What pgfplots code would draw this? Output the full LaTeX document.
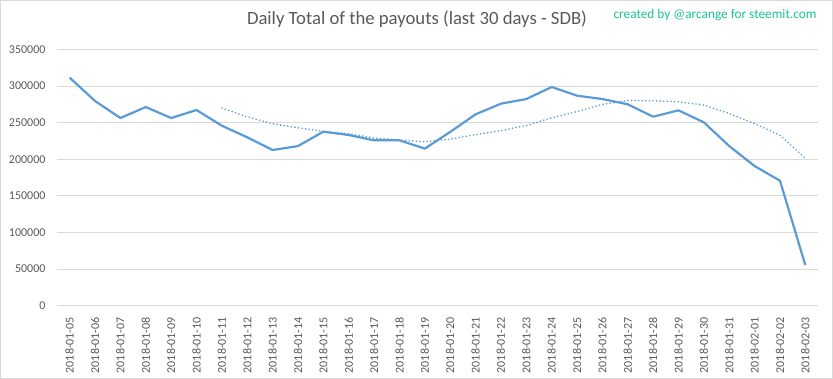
\documentclass[border=0pt]{standalone}
\usepackage{pgfplots}
\pgfplotsset{compat=1.18}
\usepackage{fontspec}
\setmainfont{Carlito}
\definecolor{xlblue}{RGB}{91,155,213}
\definecolor{txtgray}{RGB}{89,89,89}
\definecolor{gridgray}{RGB}{217,217,217}
\definecolor{teal}{RGB}{26,196,150}
\begin{document}
\begin{tikzpicture}
\useasboundingbox (0,0) rectangle (833bp,379bp);
\draw[gridgray, line width=1bp] (0.5bp,0.5bp) rectangle (832.5bp,378.5bp);
\node[txtgray, font=\fontsize{18.7bp}{22bp}\selectfont] at (417bp,360bp) {Daily Total of the payouts (last 30 days - SDB)};
\node[teal, font=\fontsize{13.3bp}{15bp}\selectfont] at (715bp,364bp) {created by @arcange for steemit.com};
\begin{axis}[
  at={(57bp,73.3bp)}, anchor=south west,
  scale only axis, width=761bp, height=256.3bp,
  xmin=-0.5, xmax=29.5, ymin=0, ymax=350000,
  axis x line*=bottom, axis y line*=left,
  x axis line style={gridgray, line width=1bp},
  y axis line style={draw=none},
  ymajorgrids, grid style={gridgray, line width=1bp},
  ytick={0,50000,...,350000},
  xtick={0,...,29},
  xticklabels={2018-01-05,2018-01-06,2018-01-07,2018-01-08,2018-01-09,2018-01-10,2018-01-11,2018-01-12,2018-01-13,2018-01-14,2018-01-15,2018-01-16,2018-01-17,2018-01-18,2018-01-19,2018-01-20,2018-01-21,2018-01-22,2018-01-23,2018-01-24,2018-01-25,2018-01-26,2018-01-27,2018-01-28,2018-01-29,2018-01-30,2018-01-31,2018-02-01,2018-02-02,2018-02-03},
  x tick label style={rotate=90, anchor=east, font=\fontsize{12bp}{14bp}\selectfont, text=txtgray},
  y tick label style={font=\fontsize{12bp}{14bp}\selectfont, text=txtgray},
  major tick length=0pt,
  xtick style={draw=none}, ytick style={draw=none},
  yticklabel style={/pgf/number format/.cd, fixed, 1000 sep={}},
  /pgf/number format/assume math mode=true,
  scaled y ticks=false,
  xticklabel shift=8bp, yticklabel shift=8bp,
  clip=false,
]
\addplot[xlblue, line width=2.2bp, line join=round] coordinates {
(0,311400) (1,279500) (2,256300) (3,271300) (4,256300) (5,267200) (6,245800) (7,229900) (8,212600) (9,218000)
(10,237600) (11,233100) (12,225800) (13,225800) (14,214500) (15,237300) (16,261300) (17,275900) (18,282200) (19,298600)
(20,286800) (21,282200) (22,275000) (23,258100) (24,266800) (25,250400) (26,218000) (27,190700) (28,170700) (29,55500)
};
\addplot[xlblue, line width=1.8bp, line cap=round, dash pattern=on 0bp off 3.6bp] coordinates {
(6,269700) (7,258000) (8,248500) (9,243000) (10,238200) (11,234900) (12,229000) (13,226100) (14,223900) (15,227400)
(16,233600) (17,239100) (18,246100) (19,256500) (20,265200) (21,274900) (22,280300) (23,279800) (24,278500) (25,274000)
(26,262500) (27,248700) (28,232800) (29,201500)
};
\end{axis}
\end{tikzpicture}
\end{document}
